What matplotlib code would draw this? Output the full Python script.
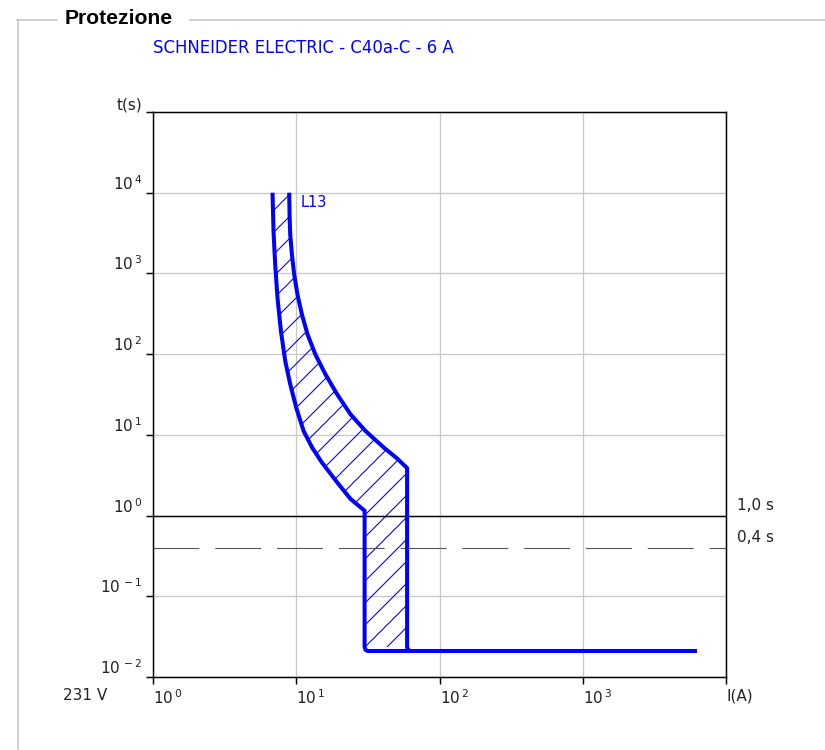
import numpy as np
import matplotlib
matplotlib.use("Agg")
import matplotlib.pyplot as plt
from matplotlib.lines import Line2D

# curve data (current in A, time in s)
left_I = [6.83, 6.94, 7.13, 7.40, 7.82, 8.38, 9.08, 10.0, 11.25, 12.9, 15.1,
          19.3, 23.9, 30, 30, 30.4, 31.5, 6270]
left_t = [1e4, 3300, 1280, 495, 192, 82, 42.3, 21.7, 11.2, 6.97, 4.55,
          2.58, 1.61, 1.15, 0.0235, 0.0218, 0.021, 0.021]
right_I = [8.93, 8.98, 9.08, 9.33, 9.68, 10.2, 10.96, 12.0, 13.6, 16.0, 19.3,
           23.9, 30.4, 40.8, 50.6, 59.4, 59.4, 60.5, 62.5]
right_t = [1e4, 5300, 3000, 1700, 964, 546, 309, 175, 99, 56.1, 31.8,
           18.0, 11.2, 6.97, 5.1, 3.88, 0.0235, 0.0215, 0.021]

x_ticks = [1, 10, 100, 1000, 10000]
x_labels = [r"$10^{\,0}$", r"$10^{\,1}$", r"$10^{\,2}$", r"$10^{\,3}$", "I(A)"]
y_ticks = [1e-2, 1e-1, 1, 10, 100, 1e3, 1e4, 1e5]
y_labels = [r"$10^{\,-2}$", r"$10^{\,-1}$", r"$10^{\,0}$", r"$10^{\,1}$",
            r"$10^{\,2}$", r"$10^{\,3}$", r"$10^{\,4}$", "t(s)"]
ref_times = [1.0, 0.4]
ref_labels = ["1,0 s", "0,4 s"]

title = "SCHNEIDER ELECTRIC - C40a-C - 6 A"
curve_name = "L13"
voltage = "231 V"

DPI = 132
W, H = 825, 750
plt.rcParams["font.family"] = ["DejaVu Sans"]
plt.rcParams["hatch.linewidth"] = 0.6
plt.rcParams["lines.scale_dashes"] = False

fig = plt.figure(figsize=(W / DPI, H / DPI), dpi=DPI)
ax = fig.add_axes([153 / W, 1 - 677 / H, (726 - 153) / W, (677 - 112) / H])
ax.set_xscale("log")
ax.set_yscale("log")
ax.set_xlim(1, 1e4)
ax.set_ylim(1e-2, 1e5)

ax.grid(True, which="major", color="#c8c8c8", lw=0.7)
ax.minorticks_off()
ax.set_axisbelow(True)

# reference times
ax.axhline(ref_times[0], color="black", lw=0.8)
ax.axhline(ref_times[1], color="#555555", lw=0.6, ls=(0, (25, 8.7)))
for t, lab in zip(ref_times, ref_labels):
    ax.annotate(lab, xy=(1, t), xycoords=("axes fraction", "data"),
                xytext=(6, 1.5), textcoords="offset points",
                ha="left", va="bottom", fontsize=8.3, color="#222222")

# hatched band between the two curves
poly_I = left_I[:15] + right_I[:17][::-1]
poly_t = left_t[:15] + right_t[:17][::-1]
ax.fill(poly_I, poly_t, facecolor="none", edgecolor="#0000ff", lw=0, hatch="//")

ax.plot(left_I, left_t, color="#0000ff", lw=2.2, solid_joinstyle="round",
        solid_capstyle="butt")
ax.plot(right_I, right_t, color="#0000ff", lw=2.2, solid_joinstyle="round",
        solid_capstyle="butt")
ax.annotate(curve_name, xy=(right_I[0], right_t[0]), xytext=(6, -1),
            textcoords="offset points", ha="left", va="top",
            fontsize=8.0, color="#0000ff")

for s in ax.spines.values():
    s.set_linewidth(0.8)
ax.set_xticks(x_ticks, x_labels)
ax.set_yticks(y_ticks, y_labels)
ax.tick_params(length=3.8, width=0.8, labelsize=8.3, labelcolor="#222222")
ax.tick_params(axis="x", pad=2.5)
ax.tick_params(axis="y", pad=2.0)
plt.setp(ax.get_xticklabels(), ha="left")
plt.setp(ax.get_yticklabels(), va="bottom")

# group box frame
gray = "#c8c8c8"
fig.add_artist(Line2D([17 / W, 57 / W], [1 - 19.5 / H] * 2, color=gray, lw=0.9))
fig.add_artist(Line2D([190 / W, 1], [1 - 19.5 / H] * 2, color=gray, lw=0.9))
fig.add_artist(Line2D([17.5 / W] * 2, [0, 1 - 19.5 / H], color=gray, lw=0.9))
fig.text(65 / W, 1 - 18 / H, "Protezione", fontsize=11.5, fontweight="bold",
         family="Liberation Sans", va="center", ha="left")
fig.text(153 / W, 1 - 48 / H, title, fontsize=9.0, color="#0000ff",
         va="center", ha="left")
fig.text(107 / W, 1 - 695 / H, voltage, fontsize=8.3, color="#222222",
         va="center", ha="right")

fig.savefig("out.png", dpi=DPI)
